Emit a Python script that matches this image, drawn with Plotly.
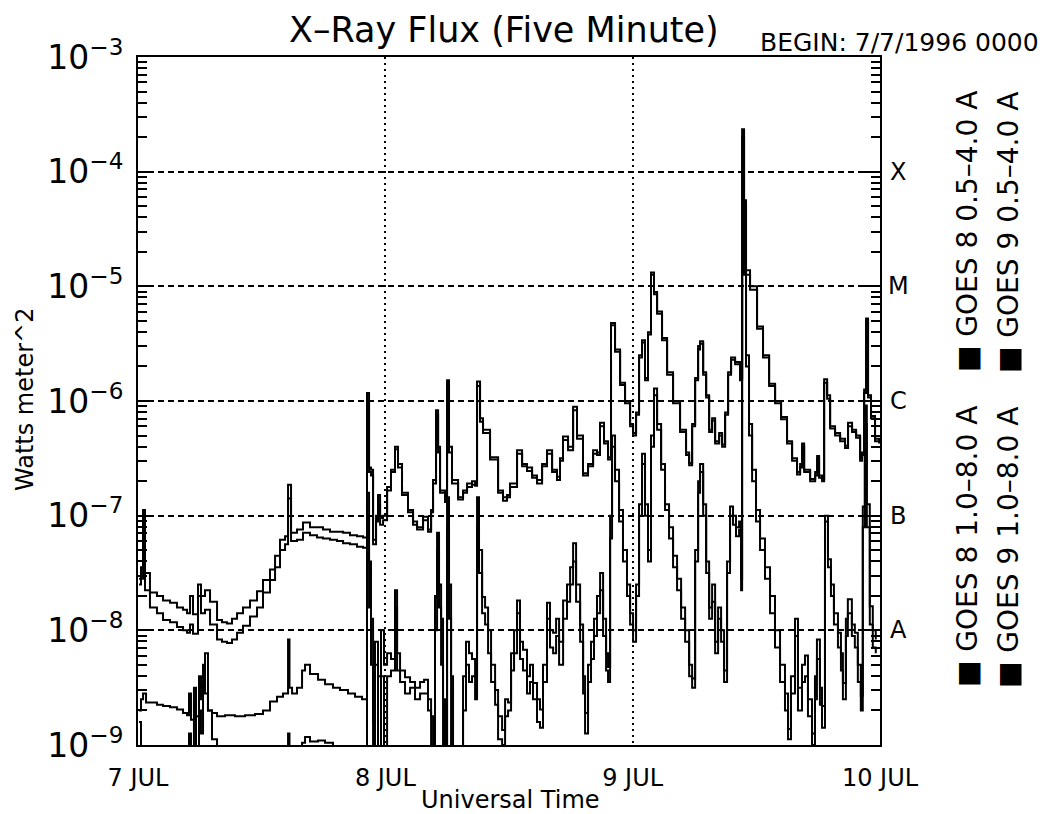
import plotly.graph_objects as go

# ---------------- data (hours since 7 Jul 1996 00:00 UT, log10 flux W/m^2) ----------------
t_hi = [0.10, 0.29, 0.49, 0.68, 1.16, 1.84, 2.43, 3.11, 3.78, 4.37, 4.76, 5.05, 5.34, 5.82, 6.11, 6.50, 6.99,
        7.67, 8.15, 8.64, 9.12, 9.61, 10.19, 10.87, 11.55, 12.13, 12.81, 13.30, 13.78, 14.27, 14.56, 14.85,
        15.43, 16.01, 16.69, 17.37, 17.95, 18.63, 19.31, 19.90, 20.57, 21.25, 21.84, 22.13, 22.22, 22.42,
        22.61, 22.81, 23.10, 23.29, 23.49, 23.78, 24.17, 24.55, 24.94, 25.23, 25.62, 26.20, 26.69, 27.08,
        27.66, 28.14, 28.44, 28.63, 28.92, 29.12, 29.31, 29.79, 29.99, 30.18, 30.47, 31.06, 31.54, 31.93,
        32.41, 32.71, 32.90, 33.19, 33.48, 34.16, 34.94, 35.42, 35.81, 36.10, 36.78, 37.27, 37.75, 38.24,
        38.72, 39.21, 39.69, 40.18, 40.66, 40.95, 41.24, 41.73, 42.22, 42.60, 43.18, 43.67, 44.16, 44.54,
        44.83, 45.22, 45.61, 45.90, 46.29, 46.78, 47.26, 47.75, 48.04, 48.33, 48.62, 48.91, 49.20, 49.49,
        49.78, 50.07, 50.37, 50.85, 51.34, 51.92, 52.60, 53.18, 53.48, 53.77, 54.06, 54.35, 54.54, 54.84,
        55.13, 55.42, 55.71, 56.00, 56.39, 56.68, 56.97, 57.26, 57.55, 57.94, 58.42, 58.62, 58.81, 59.00,
        59.39, 60.07, 60.65, 61.24, 61.82, 62.40, 62.98, 63.47, 63.95, 64.25, 64.44, 64.64, 65.22, 65.71,
        65.90, 66.09, 66.38, 66.58, 66.87, 67.16, 67.64, 68.13, 68.61, 68.90, 69.29, 69.68, 70.07, 70.26,
        70.46, 70.65, 70.84, 71.13, 71.52, 71.91]

goes8_long = [-7.55, -7.45, -6.95, -7.50, -7.67, -7.70, -7.74, -7.76, -7.80, -7.82, -7.85, -7.70, -7.86, -7.60,
              -7.70, -7.65, -7.75, -7.91, -7.93, -7.94, -7.90, -7.85, -7.80, -7.74, -7.66, -7.56, -7.47, -7.35,
              -7.21, -7.18, -6.73, -7.15, -7.12, -7.06, -7.10, -7.10, -7.12, -7.14, -7.14, -7.15, -7.17, -7.18,
              -7.19, -7.19, -5.93, -6.58, -6.60, -7.21, -7.00, -6.82, -7.02, -7.00, -6.75, -6.60, -6.40, -6.55,
              -6.80, -6.95, -7.05, -7.12, -7.01, -7.12, -6.95, -6.69, -6.08, -6.40, -6.78, -6.86, -5.82, -6.40,
              -6.69, -6.84, -6.78, -6.72, -6.70, -6.72, -5.83, -6.15, -6.25, -6.49, -6.78, -6.84, -6.82, -6.72,
              -6.43, -6.55, -6.58, -6.65, -6.69, -6.55, -6.43, -6.60, -6.66, -6.50, -6.31, -6.40, -6.05, -6.30,
              -6.63, -6.55, -6.43, -6.45, -6.19, -6.35, -6.49, -5.32, -5.55, -5.84, -6.00, -6.20, -6.28, -6.10,
              -5.60, -5.47, -5.80, -5.40, -4.88, -5.05, -5.22, -5.45, -5.75, -6.00, -6.25, -6.45, -6.54, -6.20,
              -5.80, -5.52, -5.48, -5.75, -5.95, -6.25, -6.15, -6.35, -6.28, -6.38, -6.10, -5.75, -5.62, -5.66,
              -5.80, -3.63, -4.25, -4.86, -5.00, -5.35, -5.60, -5.85, -6.00, -6.14, -6.35, -6.50, -6.62, -6.55,
              -6.37, -6.60, -6.68, -6.62, -6.48, -6.65, -6.68, -5.81, -5.95, -6.22, -6.28, -6.33, -6.39, -6.19,
              -6.25, -6.30, -6.50, -6.45, -5.90, -5.28, -5.95, -6.13, -6.33, -6.35]

goes9_long = [-7.60, -7.55, -7.05, -7.65, -7.80, -7.85, -7.91, -7.93, -7.97, -8.00, -8.02, -7.95, -8.03, -7.70,
              -7.85, -7.82, -7.95, -8.08, -8.10, -8.11, -8.08, -8.02, -7.96, -7.88, -7.80, -7.67, -7.56, -7.45,
              -7.30, -7.25, -6.85, -7.22, -7.21, -7.15, -7.17, -7.19, -7.20, -7.21, -7.22, -7.24, -7.25, -7.27,
              -7.28, -7.28, -6.00, -6.62, -6.65, -7.25, -7.05, -6.90, -7.08, -7.04, -6.78, -6.62, -6.42, -6.58,
              -6.82, -6.97, -7.08, -7.10, -7.04, -7.14, -6.97, -6.72, -6.12, -6.45, -6.80, -6.88, -5.86, -6.45,
              -6.72, -6.86, -6.80, -6.75, -6.73, -6.74, -5.87, -6.18, -6.28, -6.51, -6.80, -6.87, -6.84, -6.75,
              -6.46, -6.57, -6.61, -6.67, -6.72, -6.57, -6.46, -6.62, -6.69, -6.52, -6.34, -6.43, -6.08, -6.33,
              -6.65, -6.57, -6.46, -6.47, -6.22, -6.37, -6.51, -5.34, -5.57, -5.86, -6.02, -6.22, -6.30, -6.12,
              -5.62, -5.49, -5.82, -5.42, -4.90, -5.07, -5.24, -5.47, -5.77, -6.02, -6.27, -6.47, -6.56, -6.22,
              -5.82, -5.55, -5.50, -5.77, -5.97, -6.27, -6.17, -6.37, -6.30, -6.40, -6.12, -5.77, -5.64, -5.68,
              -5.82, -3.70, -4.30, -4.90, -5.03, -5.37, -5.62, -5.87, -6.02, -6.16, -6.37, -6.52, -6.64, -6.58,
              -6.40, -6.62, -6.70, -6.65, -6.50, -6.67, -6.70, -5.84, -5.98, -6.24, -6.30, -6.35, -6.41, -6.22,
              -6.27, -6.32, -6.52, -6.47, -5.93, -5.30, -5.97, -6.15, -6.35, -6.37]

t_lo = [0.10, 0.29, 0.49, 0.78, 1.16, 1.84, 2.43, 3.11, 3.78, 4.37, 4.76, 4.95, 5.14, 5.43, 5.63, 5.92, 6.11,
        6.31, 6.50, 6.79, 7.18, 7.67, 8.44, 9.41, 10.38, 11.35, 12.13, 12.81, 13.49, 14.07, 14.46, 14.56,
        14.70, 14.95, 15.43, 15.92, 16.21, 16.69, 17.47, 18.15, 18.92, 19.60, 20.38, 21.06, 21.74, 22.13,
        22.22, 22.42, 22.61, 22.81, 23.00, 23.29, 23.58, 23.87, 24.17, 24.55, 24.94, 25.14, 25.43, 25.91,
        26.40, 26.88, 27.37, 27.76, 28.14, 28.44, 28.63, 28.82, 29.02, 29.21, 29.41, 29.60, 29.79, 29.99,
        30.18, 30.38, 30.57, 31.25, 31.54, 31.83, 32.12, 32.41, 32.71, 32.90, 33.09, 33.39, 33.68, 33.97,
        34.26, 34.65, 34.94, 35.33, 35.62, 35.91, 36.20, 36.49, 36.78, 37.07, 37.36, 37.75, 38.04, 38.33,
        38.72, 39.01, 39.30, 39.69, 39.98, 40.28, 40.57, 40.86, 41.25, 41.63, 41.93, 42.22, 42.51, 42.90,
        43.19, 43.38, 43.67, 43.96, 44.25, 44.54, 44.84, 45.13, 45.42, 45.61, 45.81, 46.00, 46.29, 46.68,
        47.06, 47.45, 47.75, 48.04, 48.33, 48.62, 48.91, 49.20, 49.49, 49.78, 50.07, 50.37, 50.76, 51.14,
        51.53, 51.92, 52.31, 52.70, 53.09, 53.48, 53.77, 54.06, 54.35, 54.54, 54.84, 55.13, 55.42, 55.71,
        56.00, 56.29, 56.58, 56.87, 57.16, 57.45, 57.74, 58.03, 58.33, 58.52, 58.62, 58.81, 59.00, 59.29,
        59.59, 59.97, 60.36, 60.84, 61.33, 61.81, 62.30, 62.78, 63.07, 63.36, 63.75, 64.04, 64.43, 64.72,
        65.01, 65.40, 65.69, 65.88, 66.17, 66.37, 66.66, 66.95, 67.24, 67.53, 67.92, 68.21, 68.40, 68.69,
        68.88, 69.27, 69.56, 69.85, 70.14, 70.33, 70.53, 70.72, 71.01, 71.30, 71.59]

goes8_short = [-8.70, -8.60, -8.55, -8.63, -8.63, -8.65, -8.66, -8.67, -8.69, -8.72, -8.74, -8.55, -8.78, -8.50,
               -8.75, -8.40, -8.60, -8.30, -8.55, -8.70, -8.72, -8.75, -8.74, -8.75, -8.74, -8.73, -8.70, -8.62,
               -8.58, -8.55, -8.55, -8.08, -8.50, -8.55, -8.50, -8.35, -8.30, -8.38, -8.43, -8.47, -8.50, -8.52,
               -8.55, -8.58, -8.60, -8.60, -6.80, -7.40, -7.90, -8.80, -8.10, -8.40, -8.00, -8.30, -8.20, -8.25,
               -7.65, -8.20, -8.35, -8.41, -8.45, -8.50, -8.45, -8.43, -8.60, -8.75, -9.50, -7.70, -7.15, -7.60,
               -7.90, -8.60, -9.50, -6.84, -7.60, -8.40, -9.50, -9.50, -8.40, -8.10, -8.20, -8.25, -8.40, -6.84,
               -7.30, -7.71, -7.80, -8.00, -8.30, -8.52, -8.75, -8.87, -8.60, -8.63, -8.20, -8.00, -7.74, -8.10,
               -8.17, -8.40, -8.30, -8.46, -8.60, -8.69, -8.30, -7.76, -8.00, -8.02, -7.90, -8.10, -7.74, -7.60,
               -7.45, -7.24, -7.60, -7.95, -8.40, -8.72, -8.30, -8.10, -7.90, -7.70, -7.50, -7.90, -8.20, -8.32,
               -7.00, -6.30, -6.60, -6.95, -7.30, -7.60, -7.85, -8.00, -7.60, -6.90, -6.46, -6.90, -7.30, -6.30,
               -5.89, -6.20, -6.55, -6.90, -7.10, -7.35, -7.55, -7.80, -8.00, -8.30, -8.42, -7.30, -6.70, -6.55,
               -6.90, -7.40, -7.80, -7.60, -8.10, -7.80, -8.00, -8.35, -7.40, -6.92, -7.00, -7.10, -7.05, -7.55,
               -4.30, -4.80, -5.60, -6.20, -6.60, -6.95, -7.20, -7.45, -7.70, -8.00, -8.30, -8.55, -8.86, -8.40,
               -7.90, -8.50, -8.30, -8.22, -8.60, -8.90, -8.40, -8.08, -8.50, -8.66, -7.00, -7.38, -7.60, -7.85,
               -8.02, -8.20, -8.46, -7.90, -7.73, -7.95, -8.02, -8.30, -8.57, -6.92, -6.04, -6.90, -7.79, -8.00,
               -8.08]

goes9_short = [-8.80, -9.50, -9.50, -9.50, -9.50, -9.50, -9.50, -9.50, -9.50, -9.50, -9.50, -8.90, -9.50, -8.60,
               -9.30, -8.70, -8.90, -8.50, -8.20, -8.70, -8.95, -9.20, -9.50, -9.50, -9.50, -9.50, -9.50, -9.50,
               -9.50, -9.50, -9.50, -8.90, -9.50, -9.50, -9.10, -8.98, -8.93, -8.97, -8.96, -8.98, -9.20, -9.50,
               -9.50, -9.50, -9.50, -9.50, -7.00, -7.80, -8.30, -9.50, -8.30, -9.50, -8.40, -9.50, -8.40, -8.35,
               -7.80, -8.35, -8.45, -8.55, -8.50, -8.60, -8.55, -8.55, -8.70, -9.50, -9.50, -8.00, -7.30, -7.80,
               -8.30, -9.50, -9.50, -7.10, -7.90, -9.00, -9.50, -9.50, -8.70, -8.30, -8.45, -8.40, -8.60, -7.10,
               -7.50, -7.85, -7.95, -8.20, -8.45, -8.65, -8.95, -9.00, -8.75, -8.70, -8.35, -8.20, -7.85, -8.25,
               -8.35, -8.55, -8.45, -8.60, -8.80, -8.85, -8.45, -7.90, -8.15, -8.20, -8.05, -8.30, -7.90, -7.75,
               -7.60, -7.40, -7.75, -8.10, -8.55, -8.90, -8.45, -8.25, -8.05, -7.85, -7.65, -8.05, -8.35, -8.45,
               -7.20, -6.40, -6.70, -7.05, -7.40, -7.70, -7.95, -8.10, -7.70, -7.00, -6.55, -7.00, -7.40, -6.40,
               -5.95, -6.25, -6.60, -6.95, -7.20, -7.45, -7.65, -7.90, -8.10, -8.40, -8.50, -7.40, -6.80, -6.62,
               -7.00, -7.50, -7.90, -7.75, -8.20, -7.90, -8.10, -8.45, -7.50, -7.00, -7.08, -7.18, -7.12, -7.65,
               -4.40, -4.90, -5.70, -6.30, -6.70, -7.05, -7.30, -7.55, -7.85, -8.15, -8.45, -8.70, -8.95, -8.55,
               -8.05, -8.70, -8.45, -8.40, -8.75, -9.00, -8.60, -8.25, -8.65, -8.85, -7.05, -7.45, -7.70, -7.95,
               -8.15, -8.35, -8.60, -8.05, -7.85, -8.05, -8.15, -8.45, -8.70, -7.10, -6.20, -7.10, -7.95, -8.15,
               -8.20]

day_ticks = [0, 24, 48, 72]
day_labels = ["7 JUL", "8 JUL", "9 JUL", "10 JUL"]
decade_ticks = [-9, -8, -7, -6, -5, -4, -3]
class_levels = [-8, -7, -6, -5, -4]
class_labels = ["A", "B", "C", "M", "X"]

# ---------------- figure ----------------
FONT = "DejaVu Sans"
fig = go.Figure()
for t, v in [(t_hi, goes8_long), (t_hi, goes9_long), (t_lo, goes8_short), (t_lo, goes9_short)]:
    fig.add_trace(go.Scatter(x=t, y=[10 ** a for a in v], mode="lines",
                             line=dict(color="black", width=2, shape="hv"),
                             showlegend=False, hoverinfo="skip"))

L, R, T, B = 138, 880, 57, 745
W, H = 1045, 814
pw, ph = R - L, B - T


def px(X):
    return (X - L) / pw


def py(Y):
    return (B - Y) / ph


fig.update_layout(
    width=W, height=H,
    margin=dict(l=L, r=W - R, t=T, b=H - B),
    paper_bgcolor="white", plot_bgcolor="white",
    font=dict(family=FONT, color="black"),
)

fig.update_xaxes(
    range=[0, 72], tickvals=day_ticks, ticktext=day_labels,
    showline=True, linecolor="black", linewidth=2, mirror=True,
    ticks="", tickfont=dict(size=24, family=FONT), ticklabelstandoff=10,
    showgrid=True, gridcolor="black", gridwidth=1.5, griddash="2px,4px",
    zeroline=False,
)
fig.update_yaxes(
    type="log", range=[-9, -3],
    tickvals=[10 ** d for d in decade_ticks],
    ticktext=["10<sup>\u2212%d</sup>" % (-d) for d in decade_ticks],
    tickfont=dict(size=33, family=FONT),
    showline=True, linecolor="black", linewidth=2, mirror="allticks",
    ticks="inside", ticklen=16, tickwidth=1.5, tickcolor="black",
    minor=dict(ticks="inside", ticklen=9, tickwidth=1.5, tickcolor="black", dtick="D1", showgrid=False),
    ticklabelstandoff=6,
    showgrid=True, gridcolor="black", gridwidth=1.5, griddash="6px,4px",
    zeroline=False,
)

ann = []
ann.append(dict(text="X\u2013Ray Flux (Five Minute)", x=px(504), y=py(30), xref="paper", yref="paper",
                showarrow=False, font=dict(size=35, family=FONT), xanchor="center", yanchor="middle"))
ann.append(dict(text="BEGIN: 7/7/1996 0000", x=px(1041), y=py(42), xref="paper", yref="paper",
                showarrow=False, font=dict(size=25, family=FONT), xanchor="right", yanchor="middle"))
ann.append(dict(text="Watts meter^2", x=px(25), y=py(400), xref="paper", yref="paper", textangle=-90,
                showarrow=False, font=dict(size=24, family=FONT), xanchor="center", yanchor="middle"))
ann.append(dict(text="Universal Time", x=px(510), y=py(800), xref="paper", yref="paper",
                showarrow=False, font=dict(size=24, family=FONT), xanchor="center", yanchor="middle"))
for lv, lab in zip(class_levels, class_labels):
    ann.append(dict(text=lab, x=px(898), y=lv, xref="paper", yref="y", showarrow=False,
                    font=dict(size=24, family=FONT), xanchor="center", yanchor="middle"))
legend_cols = [(967, "GOES 8"), (1008, "GOES 9")]
for cx, sat in legend_cols:
    ann.append(dict(text="\u25a0 %s 1.0\u20138.0 A" % sat, x=px(cx), y=py(547), xref="paper", yref="paper",
                    textangle=-90, showarrow=False, font=dict(size=28, family=FONT),
                    xanchor="center", yanchor="middle"))
    ann.append(dict(text="\u25a0 %s 0.5\u20134.0 A" % sat, x=px(cx), y=py(232), xref="paper", yref="paper",
                    textangle=-90, showarrow=False, font=dict(size=28, family=FONT),
                    xanchor="center", yanchor="middle"))
fig.update_layout(annotations=ann)

fig.write_html("out.html")
